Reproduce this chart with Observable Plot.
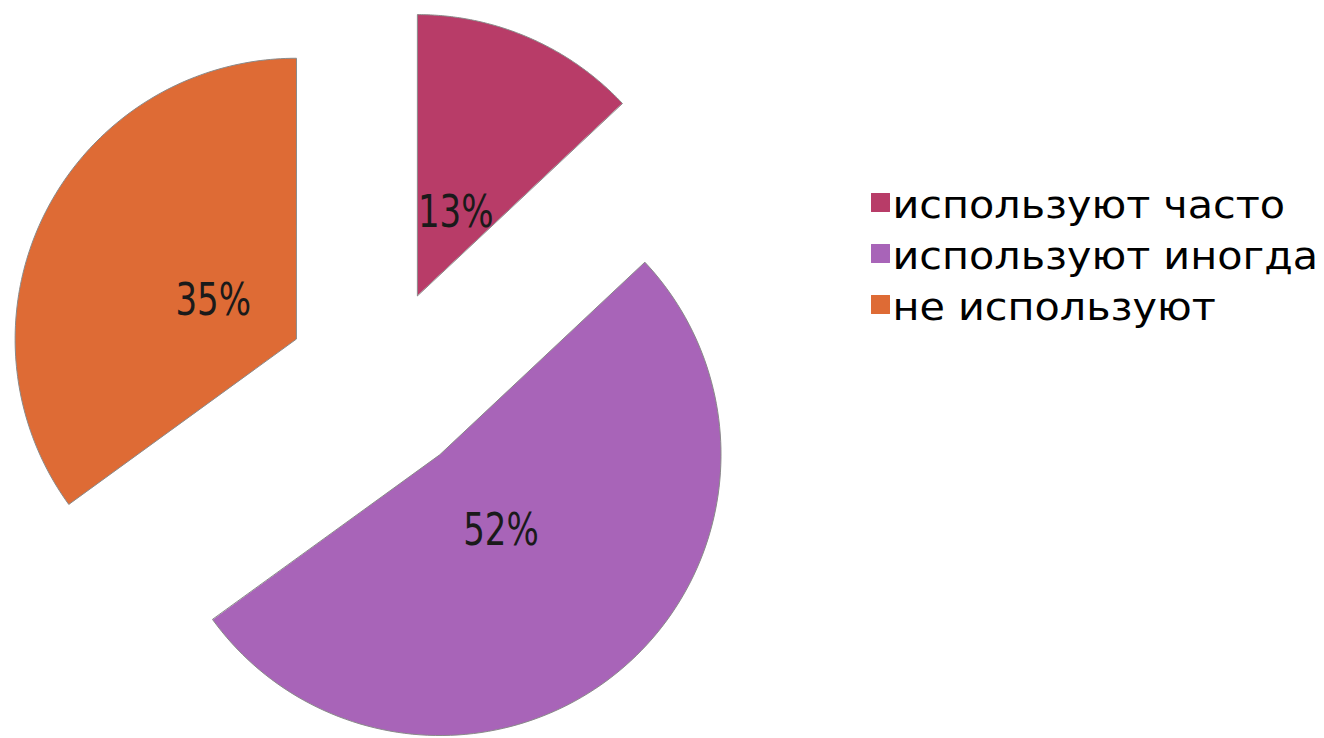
<!DOCTYPE html>
<html>
<head>
<meta charset="utf-8">
<script src="https://cdn.jsdelivr.net/npm/d3@7"></script>
<script src="https://cdn.jsdelivr.net/npm/@observablehq/plot@0.6"></script>
<style>
  html, body { margin: 0; padding: 0; background: #ffffff; }
  #chart svg { display: block; }
</style>
</head>
<body>
<div id="chart"></div>
<script>
// ---- data ----
const categories = ["используют часто", "используют иногда", "не используют"];
const values = [13, 52, 35];
const labels = ["13%", "52%", "35%"];
const colors = ["#B83C68", "#A864B8", "#DE6B35"];

// ---- layout ----
const W = 1324, H = 738;
const cx = 379.5, cy = 381.5, R = 281;
const explode = 0.335;    // fraction of radius
const labelPos = 0.67;    // fraction of radius from pie centre
const legendX = 880, legendY0 = 204, legendStep = 51;

const arcs = d3.pie().sort(null).value(d => d)(values);

const slicePts = [];
const labelPts = [];
arcs.forEach((a, i) => {
  const mid = (a.startAngle + a.endAngle) / 2;
  const ox = cx + explode * R * Math.sin(mid);
  const oy = cy - explode * R * Math.cos(mid);
  slicePts.push({cat: categories[i], x: ox, y: oy});
  const n = 120;
  for (let k = 0; k <= n; k++) {
    const t = a.startAngle + (a.endAngle - a.startAngle) * k / n;
    slicePts.push({cat: categories[i], x: ox + R * Math.sin(t), y: oy - R * Math.cos(t)});
  }
  labelPts.push({
    label: labels[i],
    x: cx + labelPos * R * Math.sin(mid),
    y: cy - labelPos * R * Math.cos(mid)
  });
});

const legendData = categories.map((c, i) => ({cat: c, x: legendX, y: legendY0 + i * legendStep}));

const chart = Plot.plot({
  width: W,
  height: H,
  margin: 0,
  x: {domain: [0, W], range: [0, W], axis: null},
  y: {domain: [0, H], range: [0, H], axis: null},
  color: {domain: categories, range: colors},
  marks: [
    Plot.line(slicePts, {
      x: "x", y: "y", z: "cat", fill: "cat",
      stroke: "#8a8a8a", strokeWidth: 1, curve: "linear-closed"
    }),
    Plot.text(labelPts, {
      x: "x", y: "y", text: "label", dy: 4, dx: 1,
      className: "pct-text",
      fontSize: 44, fontFamily: "'Liberation Sans Narrow', 'DejaVu Sans Condensed', sans-serif",
      fill: "#1a1a1a", textAnchor: "middle", lineAnchor: "middle"
    }),
    Plot.dot(legendData, {
      x: "x", y: "y", fill: "cat", symbol: "square", r: 10.7, stroke: "none", dy: -2
    }),
    Plot.text(legendData, {
      x: "x", y: "y", text: "cat", dx: 12, dy: 1,
      className: "legend-text",
      textAnchor: "start", lineAnchor: "middle",
      fontSize: 38, fontFamily: "'DejaVu Sans', sans-serif", fill: "#000"
    })
  ]
});

// horizontal stretch of text glyphs to match the reference typefaces
function stretch(sel, sx) {
  chart.querySelectorAll(sel).forEach(t => {
    const tr = t.getAttribute("transform") || "";
    t.setAttribute("transform", (tr + ` scale(${sx},1)`).trim());
  });
}
stretch(".legend-text text", 1.087);
stretch(".pct-text text", 0.86);

document.getElementById("chart").appendChild(chart);
</script>
</body>
</html>
